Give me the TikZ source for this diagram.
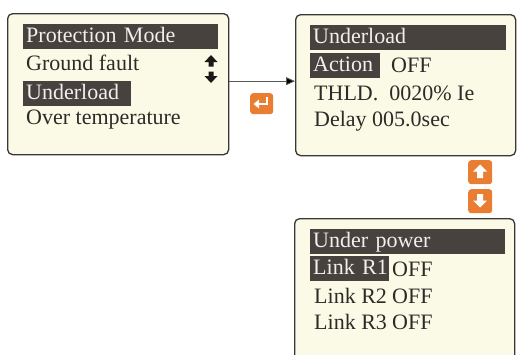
\documentclass[tikz,border=0pt]{standalone}
\usepackage{fontspec}
\setmainfont{Liberation Serif}
\usetikzlibrary{arrows.meta}
\definecolor{cream}{HTML}{FBFAE6}
\definecolor{hlc}{HTML}{48423F}
\definecolor{bord}{HTML}{3A3735}
\definecolor{txtc}{HTML}{2E2A28}
\definecolor{orng}{HTML}{E97D32}
\tikzset{
  screen/.style={draw=bord, line width=1.3pt, fill=cream, rounded corners=5pt, anchor=north west, inner sep=0pt},
  hl/.style={fill=hlc, text=white!94!black, anchor=north west, inner xsep=3pt, inner ysep=0pt,
     minimum height=25pt, text height=15pt, text depth=3pt, align=left, text width=#1},
  txt/.style={anchor=base west, inner sep=0pt, text=txtc},
  btn/.style={fill=orng, rounded corners=3pt, anchor=north west, inner sep=0pt, minimum width=24pt, minimum height=24pt},
  conn/.style={draw=black!65, line width=0.9pt, -{Triangle[length=9pt,width=8pt,fill=black]}}
}
\begin{document}
\begin{tikzpicture}[x=1pt,y=-1pt,font=\fontsize{22}{24}\selectfont]
\clip (0,0) rectangle (518,354);
\fill[white] (0,0) rectangle (518,354);
% screens
\node[screen, minimum width=221pt, minimum height=141pt] (box1) at (7,13) {};
\node[screen, minimum width=220pt, minimum height=141pt] (box2) at (295,14) {};
\node[screen, minimum width=220pt, minimum height=160pt] (box3) at (294,218) {};
% box 1
\node[hl=189pt] (b1r1) at (23,24) {Protection Mode};
\node[txt] (b1r2) at (26,70) {Ground fault};
\node[hl=102pt] (b1r3) at (23,81) {Underload};
\node[txt] (b1r4) at (26,124) {Over temperature};
% small up/down arrows
\fill[black!90] (211,55) -- (217.5,62) -- (213.5,62) -- (213.5,66.5) -- (208.5,66.5) -- (208.5,62) -- (204.5,62) -- cycle;
\fill[black!90] (211,83) -- (217.5,76) -- (213.5,76) -- (213.5,71.5) -- (208.5,71.5) -- (208.5,76) -- (204.5,76) -- cycle;
% box 2
\node[hl=190pt] (b2r1) at (310,25) {Underload};
\node[hl=64pt] (b2r2) at (310,53) {\mbox{Action}};
\node[txt] (b2off) at (391,72) {OFF};
\node[txt] (b2r3) at (314,100) {THLD.~~0020\% Ie};
\node[txt] (b2r4) at (314,126) {Delay 005.0sec};
% box 3
\node[hl=189pt] (b3r1) at (310,229) {Under power};
\node[hl=73pt] (b3r2) at (310,256) {\mbox{Link R1}};
\node[txt] (b3off1) at (392,276) {OFF};
\node[txt] (b3r3) at (314,303) {Link R2};
\node[txt] (b3off2) at (392,303) {OFF};
\node[txt] (b3r4) at (314,329) {Link R3};
\node[txt] (b3off3) at (392,329) {OFF};
% connector
\draw[conn] ([yshift=3pt]box1.east) -- ([yshift=3pt]box1.east -| box2.west);
% enter button
\node[btn, minimum width=23pt, minimum height=21pt] (enter) at (250,93) {};
\draw[white, line width=2.6pt] (267,96.5) -- (267,104) -- (258,104);
\fill[white] (259,99.5) -- (259,108.5) -- (253.5,104) -- cycle;
% up / down buttons
\node[btn] (upbtn) at (468,160) {};
\node[btn] (dnbtn) at (468,189) {};
\fill[white] (480,164.5) -- (487,171.5) -- (483,171.5) -- (483,178) -- (477,178) -- (477,171.5) -- (473,171.5) -- cycle;
\fill[white] (480,207.5) -- (487,200.5) -- (483,200.5) -- (483,194) -- (477,194) -- (477,200.5) -- (473,200.5) -- cycle;
\end{tikzpicture}
\end{document}
